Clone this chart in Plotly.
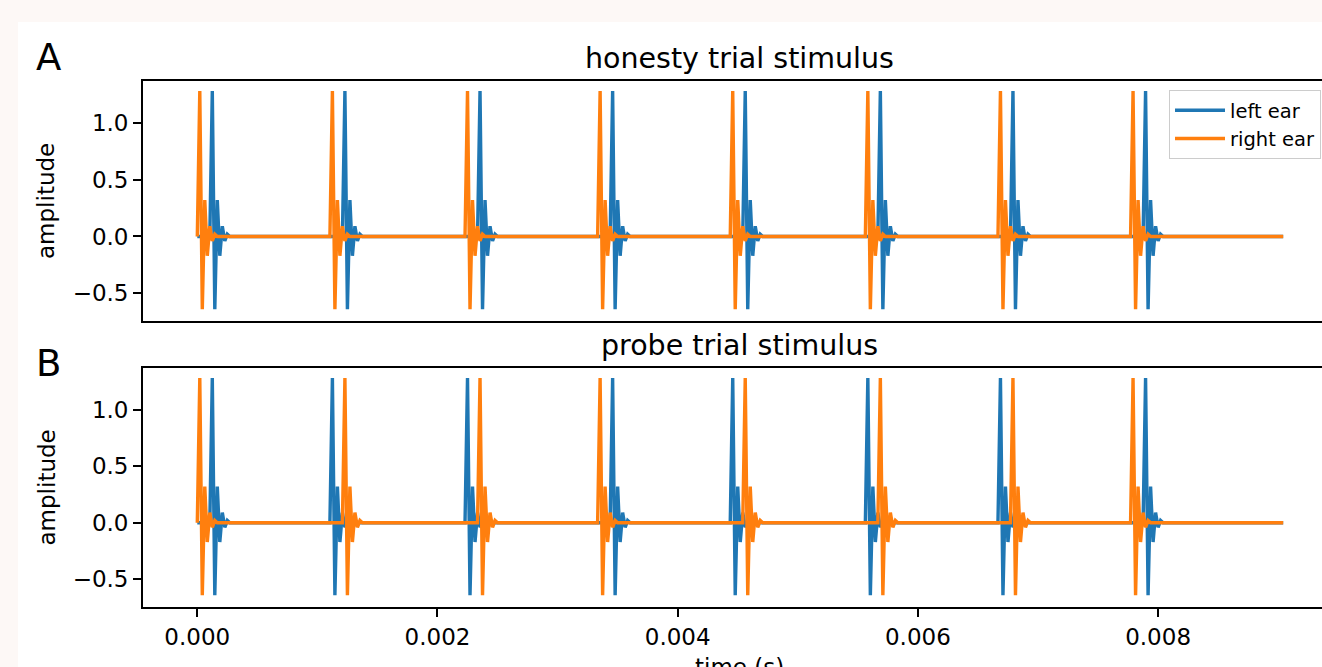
import numpy as np
import plotly.graph_objects as go

# ---------------- data ----------------
fs = 48000                      # sample rate (Hz)
n_samples = 435                 # length of each stimulus
click_onsets = [0, 53, 107, 160, 213, 267, 320, 373]          # samples
click_waveform = [0.0, 1.28, -0.64, 0.32, -0.17, 0.09, -0.04, 0.02, 0.0]
# per-click delay (samples) for each ear
honesty_left_delay = [5, 5, 5, 5, 5, 5, 5, 5]
honesty_right_delay = [0, 0, 0, 0, 0, 0, 0, 0]
probe_left_delay = [5, 0, 0, 5, 0, 0, 0, 5]
probe_right_delay = [0, 5, 5, 0, 5, 5, 5, 0]

x_tickvals = [0.0, 0.002, 0.004, 0.006, 0.008]
x_ticktext = ["0.000", "0.002", "0.004", "0.006", "0.008"]
y_tickvals = [-0.5, 0.0, 0.5, 1.0]
y_ticktext = ["\u22120.5", "0.0", "0.5", "1.0"]


def build(delays):
    sig = np.zeros(n_samples)
    w = np.array(click_waveform)
    for on, d in zip(click_onsets, delays):
        s = on + d
        e = min(s + len(w), n_samples)
        sig[s:e] += w[: e - s]
    return sig


t = np.arange(n_samples) / fs
series = {
    "A": (build(honesty_left_delay), build(honesty_right_delay)),
    "B": (build(probe_left_delay), build(probe_right_delay)),
}

BLUE = "#1f77b4"
ORANGE = "#ff7f0e"
FONT = "DejaVu Sans"

W, H = 1322, 667
ML, MR, MT, MB = 143, 0, 81, 60
PW, PH = W - ML - MR, H - MT - MB


def px_x(px):
    return (px - ML) / PW


def px_y(py):
    return (H - MB - py) / PH


fig = go.Figure()
for i, key in enumerate(["A", "B"]):
    left, right = series[key]
    xa = "x" if i == 0 else "x2"
    ya = "y" if i == 0 else "y2"
    fig.add_trace(go.Scatter(x=t, y=left, mode="lines", name="left ear",
                             line=dict(color=BLUE, width=3.4),
                             xaxis=xa, yaxis=ya, showlegend=(i == 0)))
    fig.add_trace(go.Scatter(x=t, y=right, mode="lines", name="right ear",
                             line=dict(color=ORANGE, width=3.4),
                             xaxis=xa, yaxis=ya, showlegend=(i == 0)))

xr = [-0.000452, -0.000452 + PW / 120100.0]
yr = [-0.744, 1.368]

common_y = dict(range=yr, showline=True, linecolor="black", linewidth=1.8,
                ticks="outside", ticklen=8, tickwidth=1.8, tickcolor="black",
                tickvals=y_tickvals, ticktext=y_ticktext, showgrid=False,
                zeroline=False, tickfont=dict(family=FONT, size=23, color="black"))

fig.update_layout(
    width=W, height=H,
    margin=dict(l=ML, r=MR, t=MT, b=MB, pad=0),
    paper_bgcolor="#fdf8f6",
    plot_bgcolor="white",
    font=dict(family=FONT, color="black"),
    xaxis=dict(domain=[0, 1], range=xr, showline=True, mirror=True,
               linecolor="black", linewidth=1.8, showticklabels=False,
               ticks="", showgrid=False, zeroline=False, anchor="y"),
    yaxis=dict(domain=[px_y(321), 1.0], anchor="x", **common_y),
    xaxis2=dict(domain=[0, 1], range=xr, showline=True, mirror=True,
                linecolor="black", linewidth=1.8, ticks="outside", ticklen=8,
                tickwidth=1.8, tickcolor="black", tickvals=x_tickvals,
                ticktext=x_ticktext, showgrid=False, zeroline=False,
                anchor="y2",
                tickfont=dict(family=FONT, size=23, color="black")),
    yaxis2=dict(domain=[0, px_y(368)], anchor="x2", **common_y),
    showlegend=True,
    legend=dict(x=px_x(1169), y=px_y(90), xanchor="left", yanchor="top",
                bgcolor="rgba(255,255,255,0.8)", bordercolor="#cccccc",
                borderwidth=1, font=dict(family=FONT, size=19.5, color="black"),
                itemwidth=50),
    shapes=[dict(type="rect", xref="paper", yref="paper", layer="below",
                 x0=px_x(18), x1=px_x(W + 5), y0=px_y(H + 5), y1=px_y(22),
                 fillcolor="white", line=dict(width=0))],
)

annotations = [
    dict(text="honesty trial stimulus", x=px_x(739.5), y=px_y(77),
         xanchor="center", yanchor="bottom", font=dict(size=28.5)),
    dict(text="probe trial stimulus", x=px_x(739.5), y=px_y(364),
         xanchor="center", yanchor="bottom", font=dict(size=28.5)),
    dict(text="A", x=px_x(34), y=px_y(57), xanchor="left", yanchor="middle",
         font=dict(size=37)),
    dict(text="B", x=px_x(34), y=px_y(363), xanchor="left", yanchor="middle",
         font=dict(size=37)),
    dict(text="amplitude", x=px_x(46), y=px_y(201), textangle=-90,
         xanchor="center", yanchor="middle", font=dict(size=23)),
    dict(text="amplitude", x=px_x(46), y=px_y(487.5), textangle=-90,
         xanchor="center", yanchor="middle", font=dict(size=23)),
    dict(text="time (s)", x=px_x(739.5), y=px_y(652), xanchor="center",
         yanchor="top", font=dict(size=23)),
]
for a in annotations:
    a.update(xref="paper", yref="paper", showarrow=False)
    a["font"].update(family=FONT, color="black")
fig.update_layout(annotations=annotations)

fig.write_html(
    "out.html",
    config={"displayModeBar": False},
    post_script="document.body.style.margin='0';document.body.style.overflow='hidden';",
)
